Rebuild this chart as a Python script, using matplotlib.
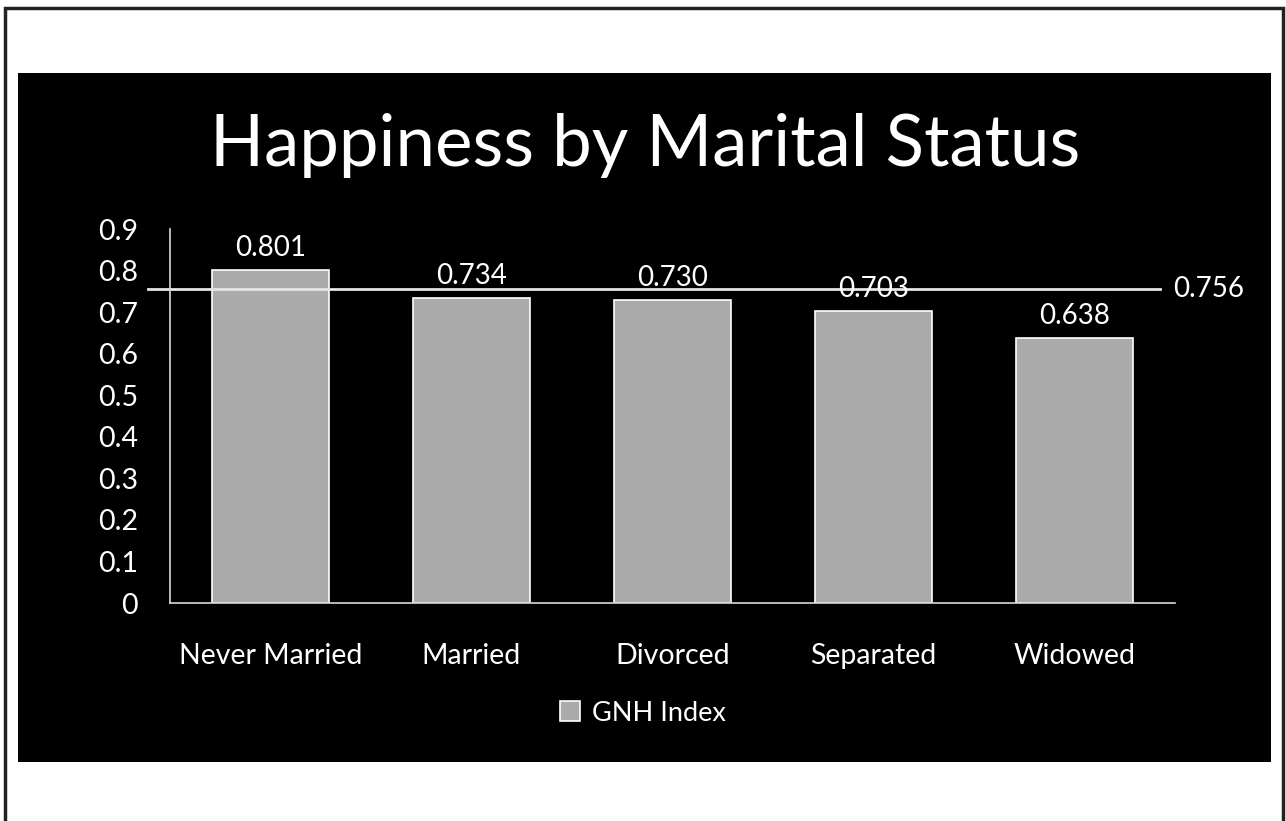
import matplotlib.pyplot as plt
from matplotlib.patches import Rectangle

categories = ["Never Married", "Married", "Divorced", "Separated", "Widowed"]
gnh_index = [0.801, 0.734, 0.730, 0.703, 0.638]
value_labels = ["0.801", "0.734", "0.730", "0.703", "0.638"]
overall_value = 0.756

W, H = 1286, 821
plt.rcParams['font.family'] = ['Lato', 'DejaVu Sans']

fig = plt.figure(figsize=(W / 100, H / 100), dpi=100, facecolor='white')

# black panel and outer frame, in pixel units
def px_rect(x0, y0, x1, y1, **kw):
    return Rectangle((x0 / W, 1 - y1 / H), (x1 - x0) / W, (y1 - y0) / H,
                     transform=fig.transFigure, zorder=-10, **kw)

fig.patches.append(px_rect(18, 73, 1271, 762, facecolor='black', edgecolor='none'))
fig.patches.append(px_rect(5, 8, 1283, 830, facecolor='none', edgecolor='#222222', linewidth=2.5))

fig.text(645 / W, 1 - 146 / H, "Happiness by Marital Status", color='white',
         fontsize=51, ha='center', va='center')

ax = fig.add_axes([170 / W, 218 / H, 1005 / W, 374 / H])
ax.patch.set_alpha(0)

x = range(len(categories))
bars = ax.bar(x, gnh_index, width=0.58, color='#ababab', edgecolor='white',
              linewidth=1.2, label='GNH Index')
for xi, v, lab in zip(x, gnh_index, value_labels):
    ax.text(xi, v + 0.022, lab, color='white', fontsize=20, ha='center', va='bottom')

ax.plot([-0.61, 4.425], [overall_value, overall_value], color='#e6e6e6',
        linewidth=2, clip_on=False)
ax.text(4.49, overall_value, "0.756", color='white', fontsize=20, ha='left', va='center')

ax.set_xlim(-0.5, 4.5)
ax.set_ylim(0, 0.9)
ax.set_yticks([i / 10 for i in range(10)])
ax.set_yticklabels(["0"] + [f"0.{i}" for i in range(1, 10)])
ax.set_xticks(list(x))
ax.set_xticklabels(categories)
ax.tick_params(axis='both', length=0, colors='white', labelsize=20.5)
ax.tick_params(axis='y', pad=23)
ax.tick_params(axis='x', pad=29)
for side in ['top', 'right']:
    ax.spines[side].set_visible(False)
for side in ['left', 'bottom']:
    ax.spines[side].set_color('#d9d9d9')
    ax.spines[side].set_linewidth(1.2)

leg = fig.legend(handles=[bars], labels=['GNH Index'], loc='center',
                 bbox_to_anchor=(643 / W, 1 - 713 / H), frameon=False,
                 fontsize=19.5, labelcolor='white', handlelength=0.75, handleheight=0.75,
                 handletextpad=0.45)

fig.savefig('out.png', dpi=100, facecolor='white')
